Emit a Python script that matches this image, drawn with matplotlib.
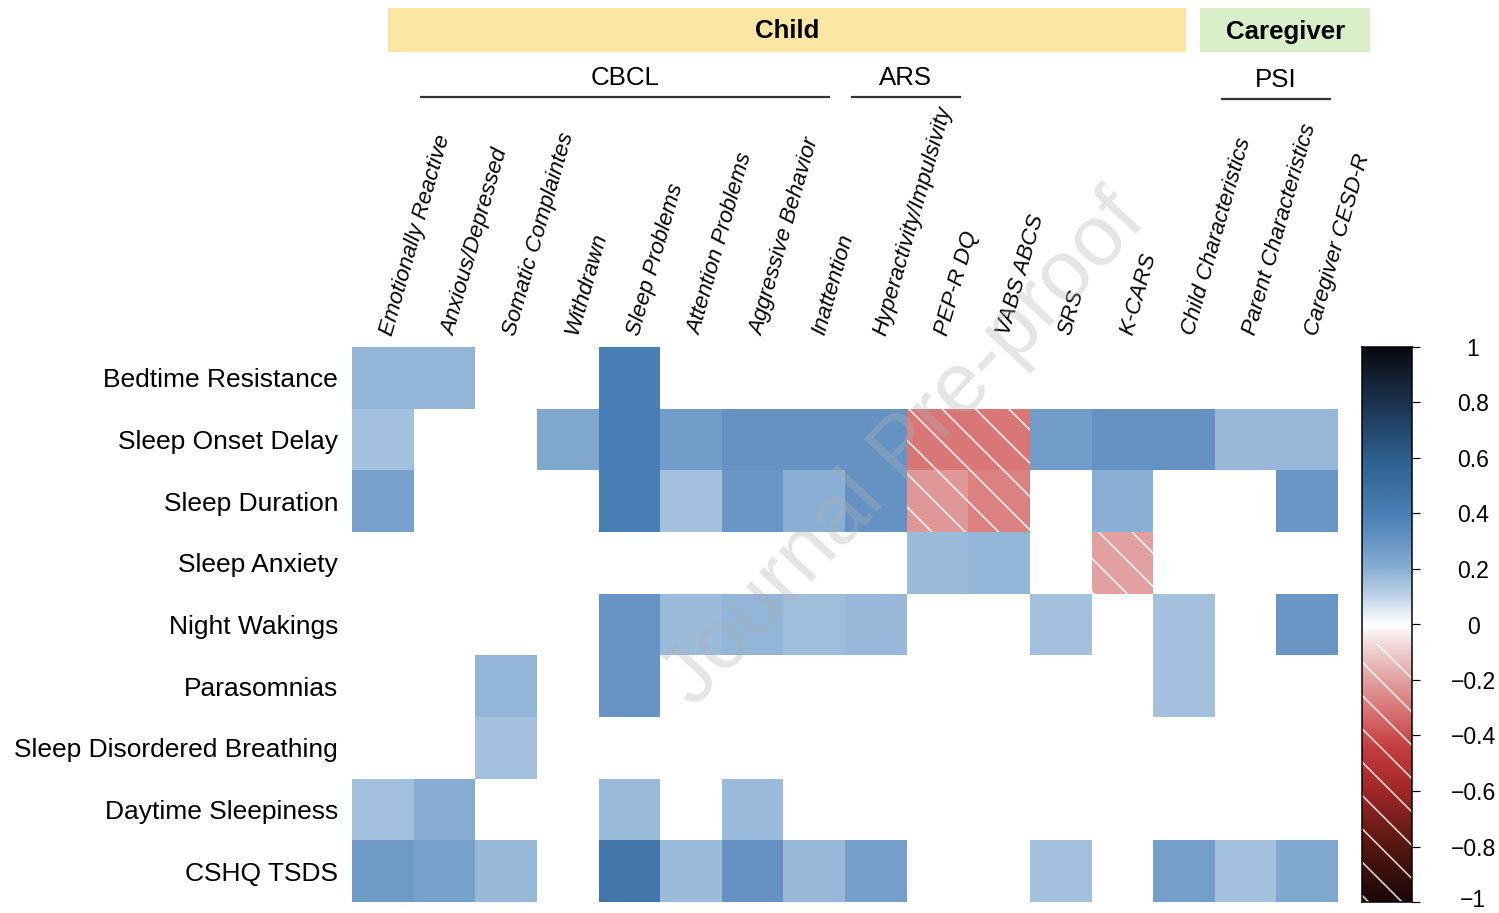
import numpy as np
import matplotlib
matplotlib.use("Agg")
from matplotlib import pyplot as plt
from matplotlib import transforms
from matplotlib.colors import LinearSegmentedColormap
from matplotlib.patches import Rectangle

N = np.nan

sleep_rows = [
    "Bedtime Resistance",
    "Sleep Onset Delay",
    "Sleep Duration",
    "Sleep Anxiety",
    "Night Wakings",
    "Parasomnias",
    "Sleep Disordered Breathing",
    "Daytime Sleepiness",
    "CSHQ TSDS",
]

measures = [
    "Emotionally Reactive",
    "Anxious/Depressed",
    "Somatic Complaintes",
    "Withdrawn",
    "Sleep Problems",
    "Attention Problems",
    "Aggressive Behavior",
    "Inattention",
    "Hyperactivity/Impulsivity",
    "PEP-R DQ",
    "VABS ABCS",
    "SRS",
    "K-CARS",
    "Child Characteristics",
    "Parent Characteristics",
    "Caregiver CESD-R",
]

# correlations per CSHQ subscale (NaN = not significant, left blank)
bedtime_resistance = [0.18, 0.18, N, N, 0.40, N, N, N, N, N, N, N, N, N, N, N]
sleep_onset_delay = [0.15, N, N, 0.23, 0.41, 0.27, 0.31, 0.31, 0.31, -0.30, -0.30, 0.27, 0.31, 0.31, 0.175, 0.175]
sleep_duration = [0.245, N, N, N, 0.41, 0.15, 0.29, 0.20, 0.31, -0.22, -0.28, N, 0.20, N, N, 0.29]
sleep_anxiety = [N, N, N, N, N, N, N, N, N, 0.17, 0.18, N, -0.20, N, N, N]
night_wakings = [N, N, N, N, 0.30, 0.17, 0.185, 0.16, 0.175, N, N, 0.15, N, 0.15, N, 0.29]
parasomnias = [N, N, 0.185, N, 0.30, N, N, N, N, N, N, N, N, 0.15, N, N]
sleep_disordered_breathing = [N, N, 0.15, N, N, N, N, N, N, N, N, N, N, N, N, N]
daytime_sleepiness = [0.15, 0.21, N, N, 0.17, N, 0.17, N, N, N, N, N, N, N, N, N]
cshq_tsds = [0.28, 0.25, 0.175, N, 0.46, 0.17, 0.31, 0.175, 0.26, N, N, 0.15, N, 0.26, 0.15, 0.23]

cbar_ticks = [1, 0.8, 0.6, 0.4, 0.2, 0, -0.2, -0.4, -0.6, -0.8, -1]

corr = np.array([
    bedtime_resistance, sleep_onset_delay, sleep_duration, sleep_anxiety,
    night_wakings, parasomnias, sleep_disordered_breathing,
    daytime_sleepiness, cshq_tsds,
])

# colour ramp: near-black red -> red -> white -> blue -> near-black blue
anchors = [
    (-1.0, "#1a0808"), (-0.8, "#55160f"), (-0.6, "#a02828"), (-0.45, "#c43c3c"),
    (-0.3, "#d97878"), (-0.2, "#e2a0a0"), (-0.1, "#eecdcd"), (0.0, "#ffffff"),
    (0.1, "#c0d4e8"), (0.2, "#8aafd5"), (0.3, "#6894c4"), (0.4, "#4a80b5"),
    (0.6, "#2e5f8e"), (0.8, "#1c3350"), (1.0, "#0a0a10"),
]
cmap = LinearSegmentedColormap.from_list("corr", [((v + 1) / 2, c) for v, c in anchors])

W, H = 1499, 913
DPI = 200
PT = 72 / DPI  # points per pixel

plt.rcParams["font.family"] = ["Liberation Sans", "DejaVu Sans"]
plt.rcParams["hatch.linewidth"] = 0.6


def box(l, t, r, b):
    return [l / W, 1 - b / H, (r - l) / W, (b - t) / H]


fig = plt.figure(figsize=(W / DPI, H / DPI), dpi=DPI)

# --- heatmap ---
ax = fig.add_axes(box(352, 347, 1338, 902))
nr, nc = corr.shape
ax.pcolormesh(np.ma.masked_invalid(corr), cmap=cmap, vmin=-1, vmax=1)
for (i, j), v in np.ndenumerate(corr):
    if v < 0:
        ax.add_patch(Rectangle((j, i), 1, 1, fill=False, hatch="\\\\",
                               edgecolor=(1, 1, 1, 0.85), lw=0))
ax.set_xlim(0, nc)
ax.set_ylim(nr, 0)
for s in ax.spines.values():
    s.set_visible(False)
ax.set_xticks([])
ax.set_yticks(np.arange(nr) + 0.5, sleep_rows, fontsize=9.5)
ax.tick_params(axis="y", length=0, pad=14 * PT)

for j, name in enumerate(measures):
    ax.text(j + 0.57, -0.2, name, rotation=74, rotation_mode="anchor",
            ha="left", va="center", fontsize=8, style="italic", clip_on=False)

# --- colour bar ---
cax = fig.add_axes(box(1362, 347, 1412, 902))
grad = np.linspace(-1, 1, 512)[:, None]
cax.imshow(grad, cmap=cmap, vmin=-1, vmax=1, aspect="auto", origin="lower",
           extent=(0, 1, -1, 1))
cax.add_patch(Rectangle((0, -1), 1, 0.93, fill=False, hatch="\\\\",
                        edgecolor=(1, 1, 1, 0.8), lw=0))
cax.set_xlim(0, 1)
cax.set_ylim(-1, 1)
cax.set_xticks([])
cax.yaxis.tick_right()
cax.set_yticks(cbar_ticks, [f"{t:g}".replace("-", "\u2212") for t in cbar_ticks])
cax.tick_params(axis="y", length=8 * PT, width=1.2 * PT, pad=53 * PT, labelsize=8.3)
for lab in cax.get_yticklabels():
    lab.set_horizontalalignment("center")
    lab.set_verticalalignment("center_baseline")
# the lowest label sits on the figure edge; lift it a touch
low = cax.get_yticklabels()[-1]
low.set_transform(low.get_transform() + transforms.ScaledTranslation(0, 4 / DPI, fig.dpi_scale_trans))
for s in cax.spines.values():
    s.set_linewidth(1.5 * PT)

# --- group headers ---
ov = fig.add_axes([0, 0, 1, 1])
ov.set_xlim(0, W)
ov.set_ylim(H, 0)
ov.axis("off")
ov.add_patch(Rectangle((388, 8), 798, 44, color="#fce6a4", lw=0))
ov.add_patch(Rectangle((1200, 8), 170, 44, color="#d9eec9", lw=0))
ov.text(787, 31, "Child", fontsize=9.3, fontweight="bold", ha="center", va="center")
ov.text(1286, 32, "Caregiver", fontsize=9.3, fontweight="bold", ha="center", va="center")

for label, x0, x1, y in [("CBCL", 420, 830, 97), ("ARS", 851, 961, 97), ("PSI", 1221, 1331, 99)]:
    ov.plot([x0, x1], [y, y], color="#333333", lw=2.2 * PT, solid_capstyle="butt")
    ov.text((x0 + x1) / 2, y - 19, label, fontsize=9.3, ha="center", va="center")

ov.text(905, 450, "Journal Pre-proof", rotation=47, rotation_mode="anchor",
        fontsize=31, color="#b0b0b0", alpha=0.33, ha="center", va="center")

fig.savefig("out.png", dpi=DPI)
